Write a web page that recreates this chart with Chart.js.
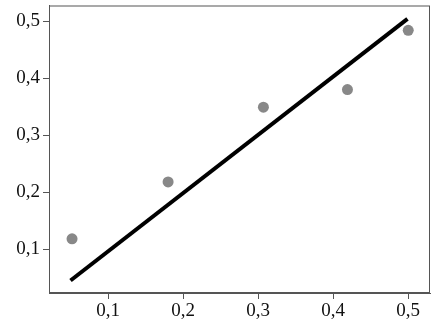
<!DOCTYPE html>
<html>
<head>
<meta charset="utf-8">
<script src="https://cdn.jsdelivr.net/npm/chart.js@4/dist/chart.umd.min.js"></script>
<style>
  html, body { margin: 0; padding: 0; background: #fff; }
  #wrap { width: 442px; height: 324px; }
</style>
</head>
<body>
<div id="wrap"><canvas id="ch"></canvas></div>
<script>
// ── Datos ──────────────────────────────────────────────
const pointsX = [0.052, 0.180, 0.307, 0.419, 0.500];
const pointsY = [0.118, 0.218, 0.349, 0.380, 0.484];
const fitX    = [0.050, 0.499];
const fitY    = [0.045, 0.504];
const xTicks  = [0.1, 0.2, 0.3, 0.4, 0.5];
const yTicks  = [0.1, 0.2, 0.3, 0.4, 0.5];

const AXIS = '#555';
const FONT = { family: 'Liberation Serif', size: 19 };
const comma = v => v.toFixed(1).replace('.', ',');

// marco completo alrededor del area de datos
const frame = {
    id: 'frame',
    afterDraw(c) {
        const a = c.chartArea, x = c.ctx;
        x.save();
        x.strokeStyle = AXIS; x.lineWidth = 1;
        x.strokeRect(a.left + 0.5, a.top + 0.5, a.right - a.left - 1, a.bottom - a.top - 1);
        x.restore();
    },
};

new Chart(document.getElementById('ch'), {
    type: 'scatter',
    data: {
        datasets: [
            {
                type: 'line',
                data: fitX.map((x, i) => ({ x, y: fitY[i] })),
                borderColor: '#000', borderWidth: 4,
                pointRadius: 0, fill: false, order: 2,
            },
            {
                data: pointsX.map((x, i) => ({ x, y: pointsY[i] })),
                backgroundColor: '#888', borderWidth: 0,
                pointRadius: 5.5, order: 1,
            },
        ],
    },
    options: {
        responsive: true, maintainAspectRatio: false, animation: false,
        layout: { padding: { top: 5, right: 12, left: 0, bottom: 0 } },
        plugins: { legend: { display: false }, tooltip: { enabled: false } },
        scales: {
            x: {
                type: 'linear', min: 0.0213, max: 0.529,
                afterBuildTicks: s => { s.ticks = xTicks.map(value => ({ value })); },
                afterFit: s => { s.height = 31; s.paddingLeft = 0; s.paddingRight = 0; },
                grid: { drawOnChartArea: false, drawTicks: true, tickLength: 6, color: AXIS },
                border: { display: true, color: AXIS },
                ticks: { color: '#111', font: FONT, padding: 1, callback: comma, maxRotation: 0 },
            },
            y: {
                type: 'linear', min: 0.023, max: 0.5275,
                afterBuildTicks: s => { s.ticks = yTicks.map(value => ({ value })); },
                afterFit: s => { s.width = 49; s.paddingTop = 0; s.paddingBottom = 0; },
                grid: { drawOnChartArea: false, drawTicks: true, tickLength: 6, color: AXIS },
                border: { display: true, color: AXIS },
                ticks: { color: '#111', font: FONT, padding: 3, callback: comma },
            },
        },
    },
    plugins: [frame],
});
</script>
</body>
</html>
